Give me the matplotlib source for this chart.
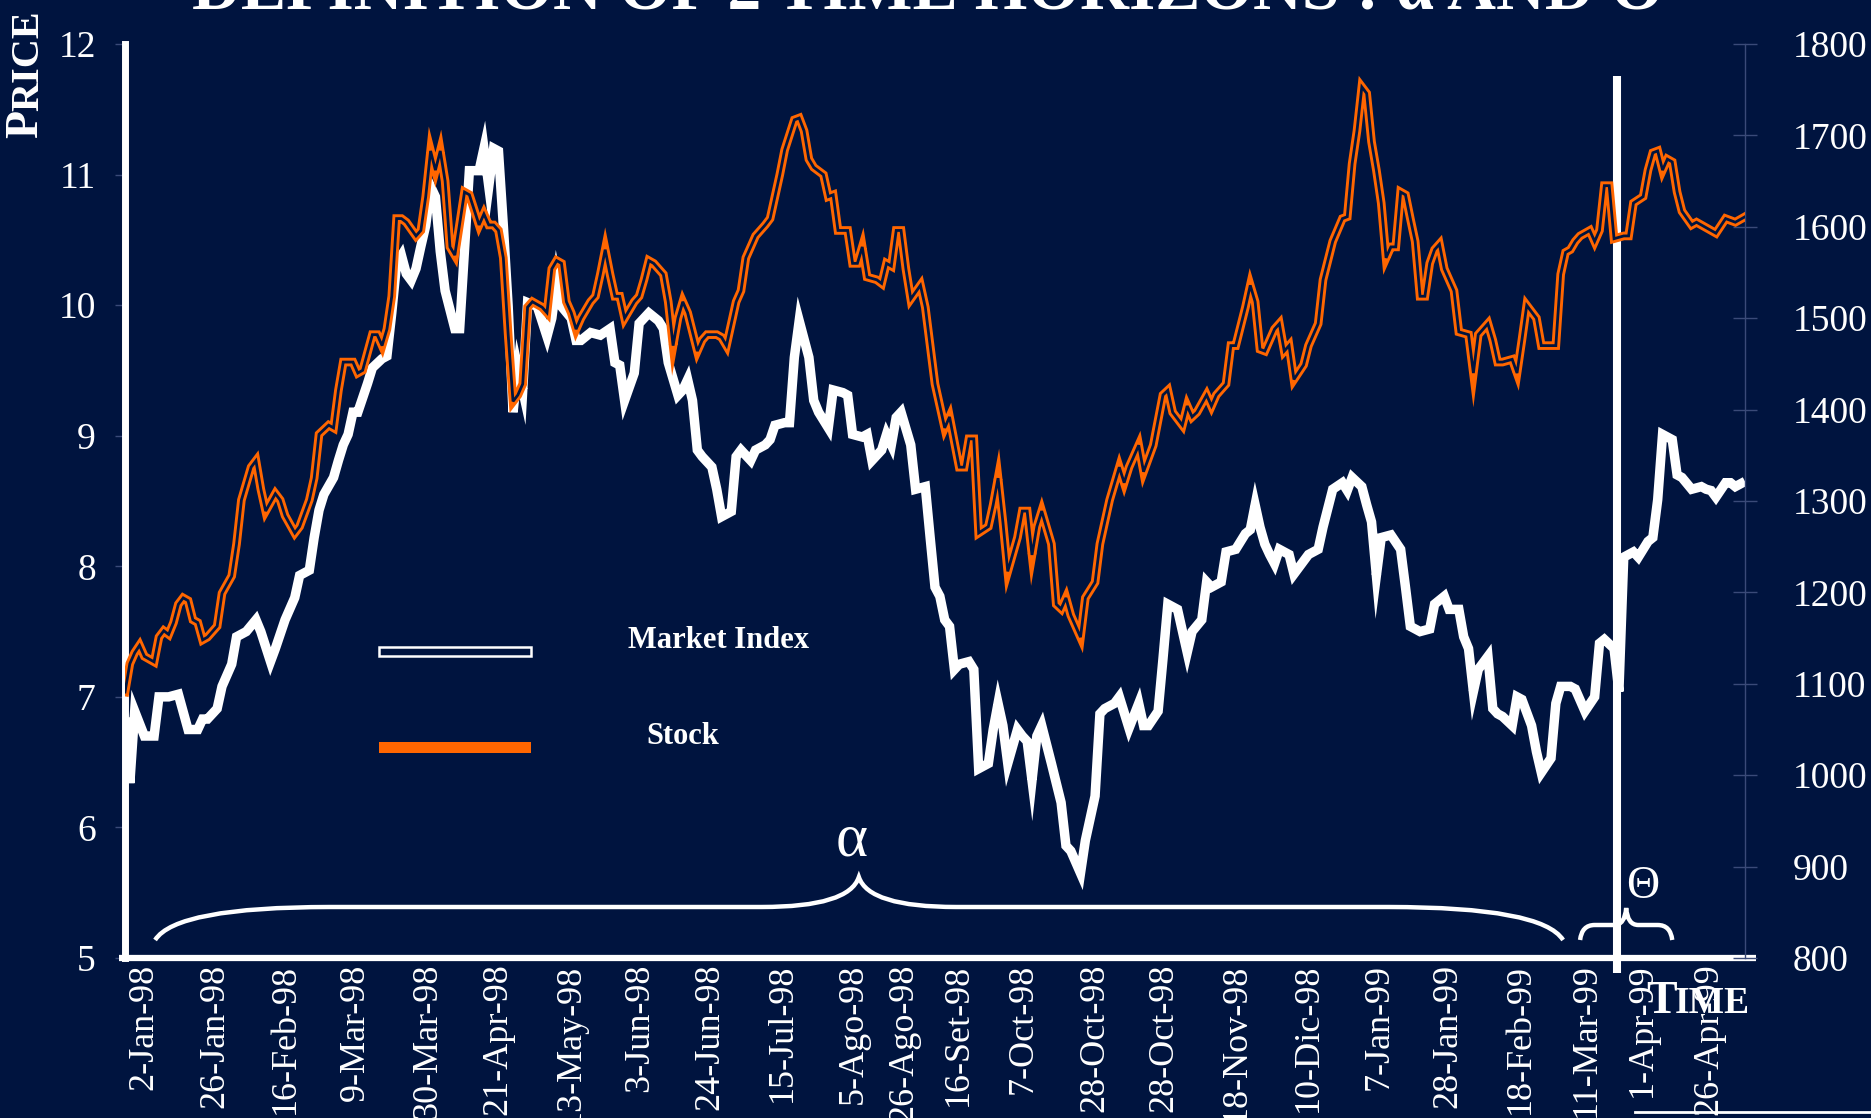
import matplotlib
matplotlib.use("Agg")
import matplotlib.pyplot as plt
from matplotlib.path import Path
from matplotlib.patches import PathPatch, Rectangle
import matplotlib.transforms as mtransforms

# ---------------- data ----------------
# trading-day index (0 = 2-Jan-98) and left-axis price (white line)
white_days = [0, 1, 2, 4, 6, 7, 9, 11, 13, 15, 16, 17, 19, 20, 22, 23, 25, 27, 28, 30,
              31, 33, 35, 36, 38, 39, 40, 41, 43, 44, 45, 46, 47, 48, 50, 51, 53, 54, 55, 56,
              57, 58, 59, 60, 61, 62, 63, 64, 65, 66, 68, 69, 71, 73, 74, 75, 76, 77, 78, 79,
              80, 81, 82, 83, 85, 87, 88, 89, 90, 92, 93, 94, 96, 98, 100, 101, 102, 103, 105, 106,
              107, 108, 110, 111, 112, 114, 115, 116, 117, 118, 119, 121, 122, 123, 125, 126, 127, 129, 130, 132,
              133, 134, 136, 137, 138, 139, 141, 142, 143, 145, 146, 148, 149, 150, 152, 153, 154, 156, 157, 158,
              159, 160, 162, 163, 165, 166, 167, 168, 169, 170, 171, 172, 174, 175, 176, 178, 179, 180, 181, 182,
              184, 185, 186, 187, 188, 189, 191, 193, 194, 195, 197, 198, 200, 201, 202, 204, 205, 207, 209, 210,
              211, 213, 214, 215, 217, 219, 220, 222, 223, 224, 226, 227, 229, 231, 232, 233, 234, 235, 236, 237,
              238, 240, 241, 242, 244, 246, 247, 249, 251, 252, 253, 255, 256, 257, 258, 259, 261, 263, 264, 265,
              267, 269, 270, 272, 273, 275, 276, 277, 278, 279, 281, 282, 283, 284, 286, 287, 288, 290, 291, 292,
              294, 295, 296, 298, 299, 301, 303, 304, 305, 307, 308, 309, 311, 312, 314, 315, 316, 317, 319, 320,
              321, 323, 325, 326, 327, 328, 330, 331, 332, 334]
white_values = [6.84, 6.34, 6.89, 6.70, 6.70, 7.00, 7.00, 7.02, 6.75, 6.75, 6.83, 6.83, 6.91, 7.08, 7.25, 7.46, 7.50, 7.59, 7.50, 7.27,
                7.37, 7.59, 7.76, 7.93, 7.97, 8.22, 8.43, 8.55, 8.68, 8.81, 8.93, 9.01, 9.18, 9.18, 9.40, 9.52, 9.59, 9.61, 9.94, 10.32,
                10.38, 10.24, 10.19, 10.28, 10.45, 10.61, 10.91, 10.83, 10.41, 10.11, 9.82, 9.82, 11.03, 11.03, 11.20, 10.91, 11.20, 11.18, 10.61, 9.99,
                9.18, 9.52, 9.35, 10.02, 9.99, 9.76, 9.90, 10.19, 9.99, 9.90, 9.73, 9.73, 9.79, 9.77, 9.82, 9.56, 9.54, 9.27, 9.48, 9.86,
                9.90, 9.94, 9.88, 9.82, 9.56, 9.31, 9.35, 9.43, 9.27, 8.89, 8.84, 8.76, 8.59, 8.38, 8.42, 8.84, 8.89, 8.81, 8.89, 8.93,
                8.97, 9.08, 9.10, 9.10, 9.60, 9.88, 9.60, 9.27, 9.18, 9.06, 9.35, 9.33, 9.31, 9.01, 8.99, 9.01, 8.81, 8.89, 9.01, 8.93,
                9.14, 9.18, 8.93, 8.59, 8.61, 8.22, 7.84, 7.77, 7.59, 7.54, 7.21, 7.25, 7.27, 7.21, 6.45, 6.49, 6.75, 6.95, 6.78, 6.49,
                6.75, 6.70, 6.66, 6.36, 6.70, 6.78, 6.49, 6.19, 5.86, 5.82, 5.65, 5.90, 6.24, 6.87, 6.91, 6.95, 7.00, 6.76, 6.95, 6.78,
                6.78, 6.89, 7.29, 7.71, 7.67, 7.34, 7.50, 7.59, 7.88, 7.84, 7.88, 8.11, 8.13, 8.25, 8.28, 8.47, 8.30, 8.17, 8.09, 8.02,
                8.13, 8.09, 7.94, 7.99, 8.09, 8.13, 8.30, 8.59, 8.64, 8.58, 8.68, 8.61, 8.47, 8.34, 7.93, 8.22, 8.24, 8.13, 7.84, 7.54,
                7.50, 7.52, 7.71, 7.77, 7.67, 7.67, 7.46, 7.37, 7.04, 7.21, 7.31, 6.91, 6.87, 6.85, 6.78, 7.00, 6.98, 6.78, 6.58, 6.42,
                6.53, 6.95, 7.08, 7.08, 7.06, 6.89, 7.00, 7.41, 7.44, 7.37, 7.04, 8.07, 8.11, 8.07, 8.19, 8.22, 8.51, 9.01, 8.97, 8.70,
                8.68, 8.59, 8.61, 8.59, 8.58, 8.53, 8.64, 8.64, 8.61, 8.65]

# trading-day index and right-axis index level (orange double line)
orange_days = [0, 1, 2, 3, 4, 6, 7, 8, 9, 10, 11, 12, 13, 14, 15, 16, 17, 19, 20, 22,
               23, 24, 26, 27, 28, 29, 31, 32, 33, 35, 36, 38, 39, 40, 42, 43, 44, 45, 47, 48,
               49, 51, 52, 53, 54, 55, 56, 57, 58, 60, 61, 62, 63, 64, 65, 66, 67, 68, 70, 71,
               73, 74, 75, 76, 77, 78, 79, 80, 81, 82, 83, 84, 86, 87, 88, 89, 90, 91, 92, 93,
               94, 96, 97, 98, 99, 100, 101, 102, 103, 105, 106, 107, 108, 109, 111, 112, 113, 114, 115, 116,
               118, 119, 120, 122, 123, 124, 125, 126, 127, 128, 130, 132, 133, 135, 136, 138, 139, 140, 141, 142,
               144, 145, 146, 147, 149, 150, 151, 152, 153, 155, 156, 157, 158, 159, 160, 161, 162, 164, 165, 167,
               169, 170, 172, 173, 174, 175, 176, 178, 179, 180, 181, 182, 184, 185, 186, 187, 188, 189, 191, 192,
               193, 194, 195, 197, 198, 200, 201, 203, 205, 206, 207, 208, 209, 210, 212, 214, 215, 216, 218, 219,
               220, 221, 223, 224, 225, 227, 228, 229, 231, 232, 233, 234, 235, 237, 238, 239, 240, 241, 243, 244,
               246, 247, 249, 251, 252, 253, 254, 255, 256, 257, 258, 259, 260, 261, 262, 263, 264, 265, 266, 267,
               268, 269, 270, 271, 272, 274, 275, 277, 278, 279, 281, 282, 283, 284, 286, 287, 288, 289, 291, 292,
               294, 295, 296, 297, 298, 299, 300, 302, 303, 304, 305, 306, 307, 309, 310, 311, 313, 314, 315, 316,
               317, 318, 319, 320, 321, 323, 324, 328, 330, 332, 334]
orange_values = [1091, 1122, 1134, 1142, 1130, 1124, 1151, 1158, 1154, 1167, 1187, 1194, 1191, 1170, 1167, 1148, 1151, 1163, 1199, 1218,
                 1253, 1301, 1337, 1344, 1313, 1289, 1308, 1301, 1284, 1265, 1272, 1301, 1325, 1373, 1383, 1380, 1421, 1452, 1452, 1440,
                 1443, 1482, 1482, 1470, 1488, 1524, 1609, 1609, 1605, 1590, 1596, 1633, 1683, 1662, 1683, 1650, 1578, 1569, 1638, 1635,
                 1602, 1614, 1602, 1602, 1596, 1566, 1482, 1409, 1416, 1428, 1512, 1518, 1512, 1506, 1554, 1563, 1560, 1518, 1506, 1488,
                 1500, 1518, 1524, 1548, 1575, 1548, 1524, 1524, 1500, 1518, 1524, 1542, 1563, 1560, 1548, 1518, 1470, 1500, 1518, 1506,
                 1464, 1476, 1482, 1482, 1479, 1470, 1494, 1518, 1530, 1566, 1590, 1602, 1609, 1657, 1684, 1717, 1719, 1705, 1674, 1665,
                 1657, 1633, 1635, 1596, 1596, 1560, 1560, 1578, 1545, 1542, 1538, 1560, 1557, 1596, 1596, 1554, 1521, 1536, 1512, 1428,
                 1380, 1392, 1337, 1337, 1368, 1368, 1265, 1272, 1296, 1325, 1277, 1223, 1260, 1289, 1289, 1241, 1272, 1289, 1253, 1187,
                 1182, 1194, 1175, 1151, 1194, 1211, 1253, 1301, 1337, 1320, 1337, 1349, 1361, 1332, 1361, 1416, 1421, 1397, 1383, 1404,
                 1392, 1397, 1416, 1404, 1416, 1428, 1470, 1470, 1512, 1536, 1518, 1466, 1464, 1488, 1494, 1464, 1470, 1433, 1449, 1470,
                 1494, 1542, 1584, 1609, 1611, 1669, 1705, 1753, 1746, 1693, 1662, 1626, 1566, 1578, 1578, 1638, 1635, 1609, 1584, 1524,
                 1524, 1560, 1575, 1581, 1554, 1530, 1485, 1482, 1440, 1482, 1494, 1476, 1452, 1452, 1455, 1440, 1476, 1514, 1500, 1470,
                 1470, 1470, 1548, 1572, 1575, 1584, 1590, 1596, 1584, 1596, 1645, 1645, 1587, 1590, 1590, 1626, 1633, 1662, 1681, 1683,
                 1662, 1674, 1671, 1638, 1617, 1602, 1605, 1593, 1609, 1605, 1611]

tick_days = [3.9, 18.6, 33.0, 47.4, 62.3, 76.9, 91.8, 106.0, 120.6, 135.5, 150.1, 160.6,
             171.8, 185.2, 200.0, 214.2, 229.1, 243.9, 258.6, 272.8, 287.6, 301.2, 312.9, 326.6]
tick_labels = ["2-Jan-98", "26-Jan-98", "16-Feb-98", "9-Mar-98", "30-Mar-98", "21-Apr-98",
               "13-May-98", "3-Jun-98", "24-Jun-98", "15-Jul-98", "5-Ago-98", "26-Ago-98",
               "16-Set-98", "7-Oct-98", "28-Oct-98", "28-Oct-98", "18-Nov-98", "10-Dic-98",
               "7-Jan-99", "28-Jan-99", "18-Feb-99", "11-Mar-99", "1-Apr-99", "26-Apr-99"]
left_ticks = [5, 6, 7, 8, 9, 10, 11, 12]
right_ticks = [800, 900, 1000, 1100, 1200, 1300, 1400, 1500, 1600, 1700, 1800]

title_text = "DEFINITION OF 2 TIME HORIZONS : \u03b1 AND \u0398"
legend_labels = ["Market Index", "Stock"]
alpha_span = (6.2, 151.3, 296.5)     # start, centre, end (days)
theta_span = (300.0, 309.5, 319.0)
split_day = 307.6

# ---------------- style ----------------
BG = "#00143F"
ORANGE = "#FF6600"
GRID = "#3a4a78"
SERIF = ["Liberation Serif", "DejaVu Serif"]

W, H = 1871, 1118
fig = plt.figure(figsize=(W / 100, H / 100), dpi=100)
fig.patch.set_facecolor(BG)

ax = fig.add_axes([125 / W, 1 - 958 / H, 1620 / W, 914 / H])
ax.set_facecolor(BG)
ax2 = ax.twinx()

ax.set_xlim(0, 334)
ax.set_ylim(5, 12)
ax2.set_ylim(800, 1800)

# series
ax.plot(white_days, white_values, color="white", lw=6.8, solid_joinstyle="miter",
        solid_capstyle="butt", zorder=3)
ax2.plot(orange_days, orange_values, color=ORANGE, lw=6.2, solid_joinstyle="miter", zorder=4)
ax2.plot(orange_days, orange_values, color=BG, lw=2.0, solid_joinstyle="miter", zorder=5)

# spines
for s in ["top", "right", "bottom"]:
    ax.spines[s].set_visible(False)
ax.spines["left"].set_color("white")
ax.spines["left"].set_linewidth(5)
for s in ["top", "left", "bottom"]:
    ax2.spines[s].set_visible(False)
ax2.spines["right"].set_color(GRID)
ax2.spines["right"].set_linewidth(1.0)

# bottom axis line (slightly longer than plot area)
ax.plot([-0.004, 1.007], [0, 0], transform=ax.transAxes, color="white", lw=4.5,
        clip_on=False, solid_capstyle="butt", zorder=6)

ax.set_yticks(left_ticks)
ax.set_yticklabels([str(v) for v in left_ticks])
ax.tick_params(axis="y", colors=GRID, labelcolor="white", direction="out", length=7,
               width=1, pad=14, labelsize=27)
ax2.set_yticks(right_ticks)
ax2.set_yticklabels([str(v) for v in right_ticks])
ax2.tick_params(axis="y", colors=GRID, labelcolor="white", direction="inout", length=17,
                width=1, pad=26, labelsize=27)
for lab in ax.get_yticklabels() + ax2.get_yticklabels():
    lab.set_fontfamily(SERIF)

ax.set_xticks(tick_days)
ax.set_xticklabels(tick_labels, rotation=90, fontsize=26, color="white", family=SERIF,
                   va="top", ha="center")
ax.tick_params(axis="x", length=0, pad=4)

# vertical split line
blend = mtransforms.blended_transform_factory(ax.transData, ax.transAxes)
ax.plot([split_day, split_day], [-0.0164, 0.965], transform=blend, color="white", lw=5.8,
        clip_on=False, solid_capstyle="butt", zorder=7)


def brace(x0, xm, x1, y_end, y_flat, y_tip, curl, tipw, lw):
    verts = [(x0, y_end), (x0 + 0.12 * curl, y_flat), (x0 + curl, y_flat),
             (xm - tipw, y_flat),
             (xm - 0.1 * tipw, y_flat), (xm, y_tip),
             (xm + 0.1 * tipw, y_flat), (xm + tipw, y_flat),
             (x1 - curl, y_flat),
             (x1 - 0.12 * curl, y_flat), (x1, y_end)]
    codes = [Path.MOVETO, Path.CURVE3, Path.CURVE3, Path.LINETO,
             Path.CURVE3, Path.CURVE3, Path.CURVE3, Path.CURVE3,
             Path.LINETO, Path.CURVE3, Path.CURVE3]
    p = PathPatch(Path(verts, codes), transform=blend, facecolor="none", edgecolor="white",
                  lw=lw, clip_on=False, zorder=6, capstyle="butt")
    ax.add_patch(p)


brace(alpha_span[0], alpha_span[1], alpha_span[2], 0.0197, 0.0558, 0.0886, 36, 20, 3.2)
brace(theta_span[0], theta_span[1], theta_span[2], 0.0197, 0.0361, 0.0547, 3.0, 2.5, 3.2)

ax.text(alpha_span[1] - 1.5, 0.128, "\u03b1", transform=blend, color="white", fontsize=44,
        family=SERIF, ha="center", va="center", zorder=8)
ax.text(theta_span[1] + 3.5, 0.078, "\u0398", transform=blend, color="white", fontsize=33,
        family=SERIF, ha="center", va="center", zorder=8)

# legend (manual)
fig.patches.append(Rectangle((379 / W, 1 - 656 / H), 152 / W, 9 / H, transform=fig.transFigure,
                             facecolor=BG, edgecolor="white", lw=1.8))
fig.patches.append(Rectangle((379 / W, 1 - 753 / H), 152 / W, 11 / H, transform=fig.transFigure,
                             facecolor=ORANGE, edgecolor="none"))
fig.text(718 / W, 1 - 641 / H, legend_labels[0], color="white", fontsize=22, fontweight="bold",
         family=SERIF, ha="center", va="center")
fig.text(683 / W, 1 - 736 / H, legend_labels[1], color="white", fontsize=22, fontweight="bold",
         family=SERIF, ha="center", va="center")

# axis titles (small caps look)
fig.text(47 / W, 1 - 138 / H, "P", rotation=90, color="white", fontsize=33, fontweight="bold",
         family=SERIF, ha="right", va="bottom")
fig.text(47 / W, 1 - 111 / H, "RICE", rotation=90, color="white", fontsize=29, fontweight="bold",
         family=SERIF, ha="right", va="bottom")
fig.text(1646 / W, 1 - 1013 / H, "T", color="white", fontsize=33, fontweight="bold",
         family=SERIF, ha="left", va="baseline", zorder=9)
fig.text(1675 / W, 1 - 1013 / H, "IME", color="white", fontsize=27, fontweight="bold",
         family=SERIF, ha="left", va="baseline", zorder=9)

# stray line at bottom right of the slide
fig.add_artist(plt.Line2D([1635 / W, 1.0], [1 - 1112 / H, 1 - 1112 / H], transform=fig.transFigure,
                          color="white", lw=2))

# title (cut off by top edge)
t = fig.text(928 / W, 1 - 10 / H, title_text, color="white", fontsize=60, fontweight="bold",
             family=SERIF, ha="center", va="baseline")
fig.canvas.draw()
bb = t.get_window_extent()
t.set_fontsize(60 * 1474 / bb.width)

fig.savefig("out.png", dpi=100, facecolor=BG)
